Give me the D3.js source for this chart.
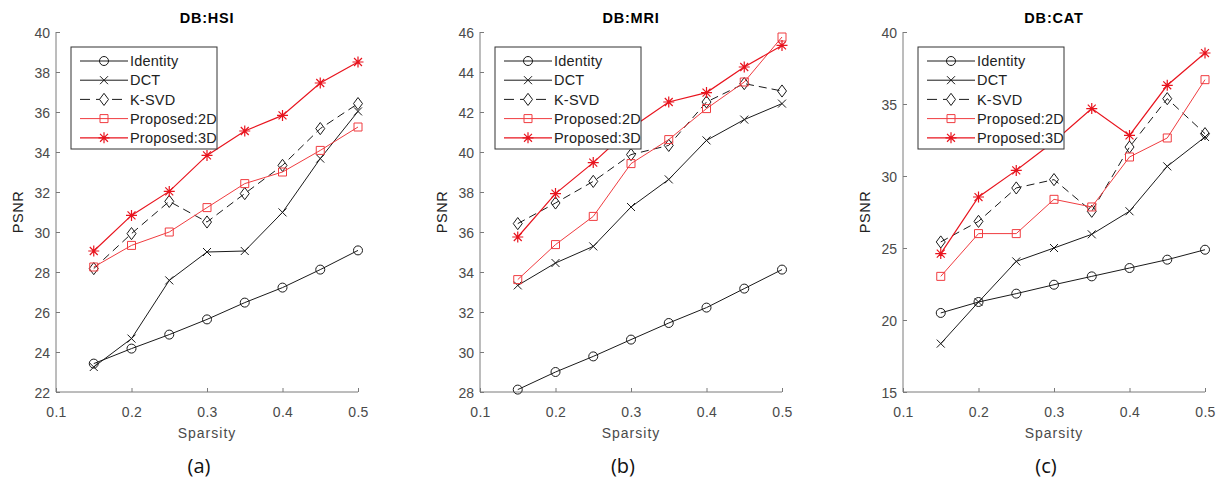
<!DOCTYPE html>
<html>
<head>
<meta charset="utf-8">
<script src="https://cdn.jsdelivr.net/npm/d3@7"></script>
<style>
  body { margin: 0; background: #fff; }
  text { font-family: "Liberation Sans", Arial, sans-serif; }
</style>
</head>
<body>
<div id="chart"></div>
<script>
// sparsity levels on the x axis
const sparsity = [0.15, 0.2, 0.25, 0.3, 0.35, 0.4, 0.45, 0.5];
const xTicks = [0.1, 0.2, 0.3, 0.4, 0.5];
const seriesNames = ["Identity", "DCT", "K-SVD", "Proposed:2D", "Proposed:3D"];

// (a) DB:HSI
const hsiIdentity = [23.42, 24.17, 24.87, 25.63, 26.47, 27.22, 28.12, 29.08];
const hsiDCT      = [23.25, 24.67, 27.58, 29.0, 29.05, 30.98, 33.67, 36.03];
const hsiKSVD     = [28.17, 29.92, 31.53, 30.5, 31.92, 33.33, 35.17, 36.42];
const hsiProp2D   = [28.25, 29.33, 30.0, 31.22, 32.42, 33.0, 34.08, 35.25];
const hsiProp3D   = [29.05, 30.83, 32.03, 33.83, 35.05, 35.83, 37.45, 38.5];
const hsiTicks    = [22, 24, 26, 28, 30, 32, 34, 36, 38, 40];

// (b) DB:MRI
const mriIdentity = [28.12, 29.0, 29.78, 30.62, 31.45, 32.22, 33.17, 34.12];
const mriDCT      = [33.33, 34.45, 35.28, 37.25, 38.63, 40.58, 41.62, 42.42];
const mriKSVD     = [36.42, 37.45, 38.53, 39.87, 40.33, 42.5, 43.42, 43.05];
const mriProp2D   = [33.62, 35.37, 36.78, 39.42, 40.62, 42.17, 43.5, 45.75];
const mriProp3D   = [35.75, 37.92, 39.47, 41.2, 42.5, 42.97, 44.25, 45.33];
const mriTicks    = [28, 30, 32, 34, 36, 38, 40, 42, 44, 46];

// (c) DB:CAT
const catIdentity = [20.49, 21.25, 21.83, 22.45, 23.03, 23.61, 24.19, 24.88];
const catDCT      = [18.36, 21.25, 24.07, 25.0, 25.95, 27.55, 30.67, 32.71];
const catKSVD     = [25.42, 26.85, 29.17, 29.75, 27.55, 32.01, 35.37, 32.94];
const catProp2D   = [23.03, 26.0, 26.0, 28.38, 27.85, 31.32, 32.64, 36.69];
const catProp3D   = [24.61, 28.54, 30.39, 32.4, 34.68, 32.82, 36.3, 38.54];
const catTicks    = [15, 20, 25, 30, 35, 40];

const styles = [
  { color: "#1a1a1a", dash: null,  marker: "o", width: 1 },
  { color: "#1a1a1a", dash: null,  marker: "x", width: 1 },
  { color: "#1a1a1a", dash: "8,5", marker: "d", width: 1 },
  { color: "#f03c40", dash: null,  marker: "s", width: 1 },
  { color: "#e8141e", dash: null,  marker: "*", width: 1.2 }
];

const panels = [
  { title: "DB:HSI", caption: "(a)", ticks: hsiTicks, left: 56,
    series: [hsiIdentity, hsiDCT, hsiKSVD, hsiProp2D, hsiProp3D] },
  { title: "DB:MRI", caption: "(b)", ticks: mriTicks, left: 480,
    series: [mriIdentity, mriDCT, mriKSVD, mriProp2D, mriProp3D] },
  { title: "DB:CAT", caption: "(c)", ticks: catTicks, left: 903,
    series: [catIdentity, catDCT, catKSVD, catProp2D, catProp3D] }
];

const width = 1221, height = 482;
const plotW = 302, plotTop = 32, plotBottom = 392;
const axisColor = "#7a7a7a", labelColor = "#4a4a4a";

// matlab-like open markers
function markerPath(type, r) {
  const p = d3.path();
  if (type === "o") {
    p.moveTo(r, 0); p.arc(0, 0, r, 0, 2 * Math.PI);
  } else if (type === "x") {
    p.moveTo(-r, -r); p.lineTo(r, r); p.moveTo(-r, r); p.lineTo(r, -r);
  } else if (type === "d") {
    p.moveTo(0, -r * 1.35); p.lineTo(r, 0); p.lineTo(0, r * 1.35); p.lineTo(-r, 0); p.closePath();
  } else if (type === "s") {
    p.rect(-r, -r, 2 * r, 2 * r);
  } else if (type === "*") {
    const k = r * 0.72;
    p.moveTo(-r, 0); p.lineTo(r, 0); p.moveTo(0, -r); p.lineTo(0, r);
    p.moveTo(-k, -k); p.lineTo(k, k); p.moveTo(-k, k); p.lineTo(k, -k);
  }
  return p.toString();
}
const markerSize = { o: 4.5, x: 4, d: 4.5, s: 4, "*": 5.5 };

const svg = d3.select("#chart").append("svg")
  .attr("width", width)
  .attr("height", height);

svg.append("rect").attr("width", width).attr("height", height).attr("fill", "#fff");

panels.forEach(panel => renderPanel(panel));

function renderPanel(panel) {
  const x0 = panel.left, x1 = panel.left + plotW;
  const ticks = panel.ticks;

  const xScale = d3.scaleLinear().domain([0.1, 0.5]).range([x0, x1]);
  const yScale = d3.scaleLinear()
    .domain([ticks[0], ticks[ticks.length - 1]])
    .range([plotBottom, plotTop]);

  const g = svg.append("g");

  // axes with inward ticks
  const xAxis = d3.axisTop(xScale).tickValues(xTicks).tickSize(4).tickFormat(d3.format(".1f"));
  const yAxis = d3.axisRight(yScale).tickValues(ticks).tickSize(4).tickFormat(d3.format("d"));

  const gx = g.append("g").attr("transform", `translate(0, ${plotBottom})`).call(xAxis);
  gx.select(".domain").attr("d", `M${x0},0H${x1}`);
  gx.selectAll("text")
    .attr("y", 25).attr("dy", 0)
    .attr("fill", labelColor).attr("font-size", 14)
    .attr("letter-spacing", 0.3);

  const gy = g.append("g").attr("transform", `translate(${x0}, 0)`).call(yAxis);
  gy.select(".domain").attr("d", `M0,${plotTop}V${plotBottom}`);
  gy.selectAll("text")
    .attr("x", -6).attr("dy", "0.36em")
    .attr("text-anchor", "end")
    .attr("fill", labelColor).attr("font-size", 14);

  g.selectAll(".domain, .tick line").attr("stroke", axisColor).attr("stroke-width", 1);

  // series
  const line = d3.line()
    .x((d, i) => xScale(sparsity[i]))
    .y(d => yScale(d));

  panel.series.forEach((values, si) => {
    const st = styles[si];
    g.append("path")
      .datum(values)
      .attr("d", line)
      .attr("fill", "none")
      .attr("stroke", st.color)
      .attr("stroke-width", st.width)
      .attr("stroke-dasharray", st.dash);

    g.selectAll(null)
      .data(values)
      .enter()
      .append("path")
      .attr("transform", (d, i) => `translate(${xScale(sparsity[i])}, ${yScale(d)})`)
      .attr("d", markerPath(st.marker, markerSize[st.marker]))
      .attr("fill", "none")
      .attr("stroke", st.color)
      .attr("stroke-width", st.width);
  });

  // legend box
  const lg = g.append("g").attr("transform", `translate(${x0 + 15}, 47)`);
  lg.append("rect")
    .attr("width", 146).attr("height", 102)
    .attr("fill", "#fff").attr("stroke", "#333").attr("stroke-width", 1);

  seriesNames.forEach((name, i) => {
    const st = styles[i];
    const y = 14 + i * 19.2;
    lg.append("line")
      .attr("x1", 9).attr("x2", 57).attr("y1", y).attr("y2", y)
      .attr("stroke", st.color).attr("stroke-width", st.width)
      .attr("stroke-dasharray", st.dash ? "10,6" : null);
    lg.append("path")
      .attr("transform", `translate(33, ${y})`)
      .attr("d", markerPath(st.marker, markerSize[st.marker]))
      .attr("fill", st.dash ? "#fff" : "none")
      .attr("stroke", st.color).attr("stroke-width", st.width);
    lg.append("text")
      .attr("x", 59).attr("y", y).attr("dy", "0.36em")
      .attr("font-size", 14.5).attr("fill", "#222")
      .attr("letter-spacing", 0.2)
      .text(name);
  });

  const cx = (x0 + x1) / 2;

  g.append("text")
    .attr("x", cx).attr("y", 23)
    .attr("text-anchor", "middle")
    .attr("font-size", 14.5).attr("font-weight", "bold")
    .attr("letter-spacing", 0.8)
    .text(panel.title);

  g.append("text")
    .attr("x", cx).attr("y", 438)
    .attr("text-anchor", "middle")
    .attr("font-size", 14).attr("fill", labelColor)
    .attr("letter-spacing", 1)
    .text("Sparsity");

  g.append("text")
    .attr("transform", `translate(${x0 - 33}, ${(plotTop + plotBottom) / 2}) rotate(-90)`)
    .attr("text-anchor", "middle")
    .attr("font-size", 14.5).attr("fill", "#222")
    .attr("letter-spacing", 0.5)
    .text("PSNR");

  g.append("text")
    .attr("x", cx - 8).attr("y", 473)
    .attr("text-anchor", "middle")
    .attr("font-size", 20).attr("fill", "#111")
    .style("font-family", "'Open Sans', sans-serif")
    .text(panel.caption);
}
</script>
</body>
</html>
